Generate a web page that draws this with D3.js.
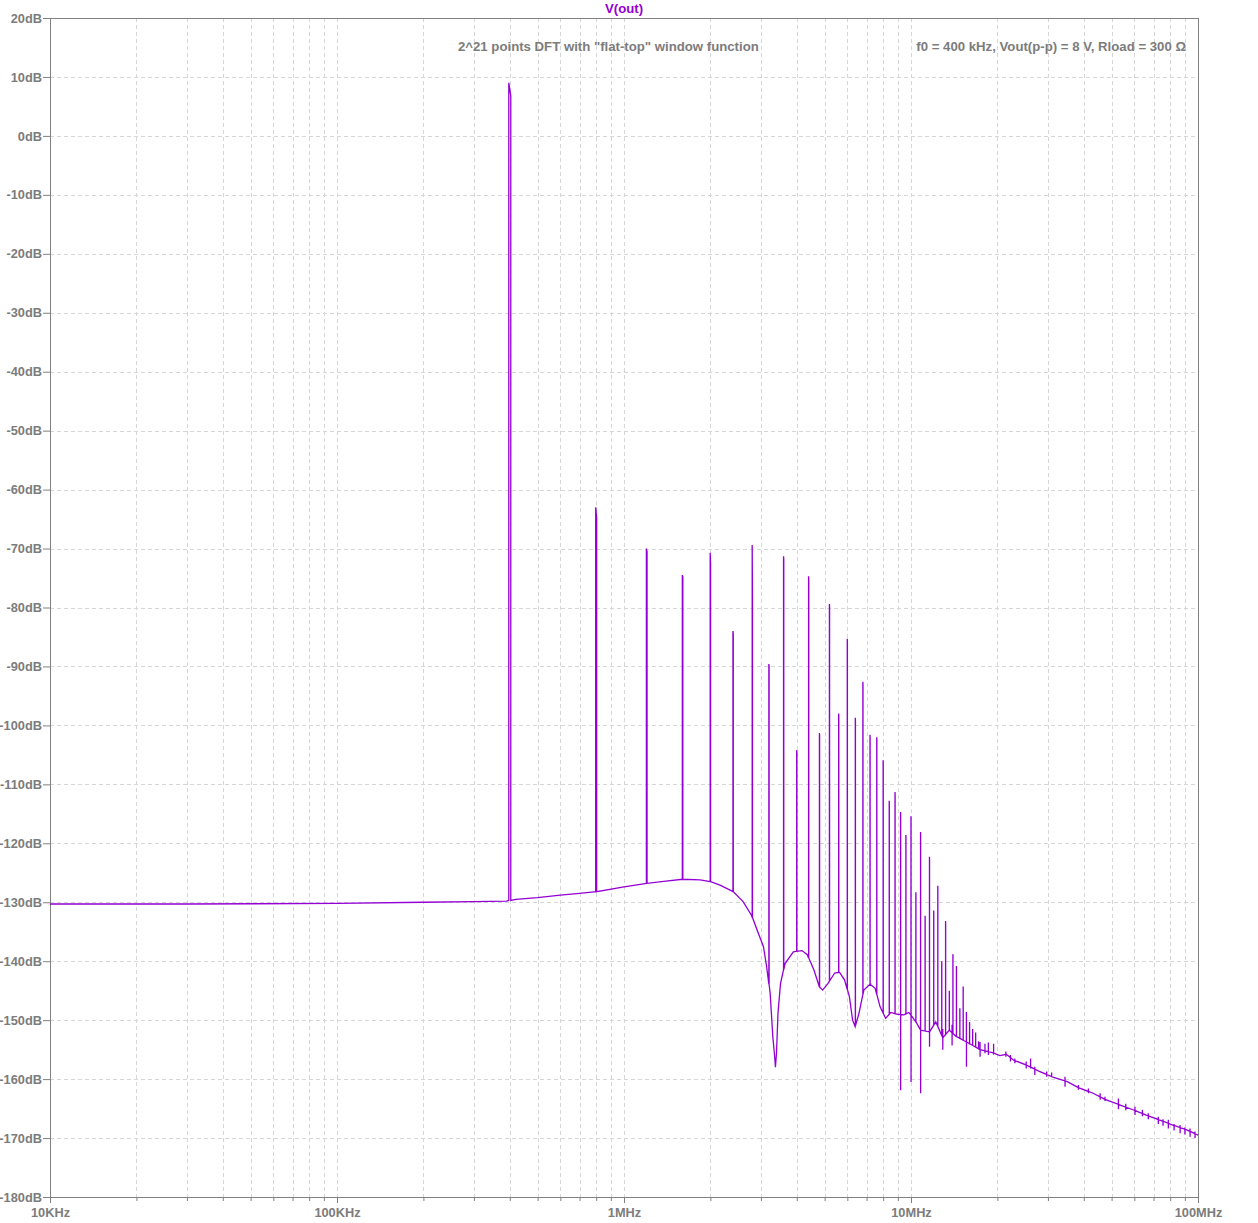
<!DOCTYPE html>
<html><head><meta charset="utf-8">
<script src="https://cdn.jsdelivr.net/npm/d3@7"></script>
<style>
body{margin:0;background:#fff}
text{font-family:"Liberation Sans",Arial,sans-serif;font-weight:bold;font-size:13.2px}
</style>
</head><body>
<svg id="c" width="1258" height="1223"></svg>
<script>
// ---------- data ----------
const xTickValues = [1e4, 1e5, 1e6, 1e7, 1e8];
const xTickLabels = ["10KHz", "100KHz", "1MHz", "10MHz", "100MHz"];
const yTickValues = [20, 10, 0, -10, -20, -30, -40, -50, -60, -70, -80, -90, -100, -110, -120, -130, -140, -150, -160, -170, -180];
const yTickLabels = ["20dB","10dB","0dB","-10dB","-20dB","-30dB","-40dB","-50dB","-60dB","-70dB","-80dB","-90dB","-100dB","-110dB","-120dB","-130dB","-140dB","-150dB","-160dB","-170dB","-180dB"];

// spectral floor (MHz, dB)
const floorMHz = [0.01,0.03,0.1,0.2,0.3,0.39,0.42,0.5,0.6,0.7,0.8,1.0,1.2,1.4,1.6,1.84,2.0,2.16,2.4,2.6,2.78,2.94,3.06,3.14,3.23,3.30,3.35,3.37,3.40,3.44,3.51,3.64,3.89,4.17,4.35,4.59,4.79,4.92,5.13,5.42,5.64,5.87,6.10,6.26,6.39,6.59,6.85,7.2,7.5,7.8,8.16,8.5,8.96,9.45,9.83,10.4,10.8,11.6,12.2,12.9,13.6,14.4,15.2,16.0,17.4,19.2,20.4,21.5,22.8,25.2,28.0,31.4,34.9,38.5,43.1,47.7,53.6,59.3,66.0,73.2,81.7,91.3,100];
const floorDb = [-130.3,-130.3,-130.2,-130.0,-129.9,-129.8,-129.5,-129.2,-128.8,-128.5,-128.2,-127.4,-126.8,-126.4,-126.1,-126.2,-126.5,-127.1,-128.2,-129.9,-132.2,-135.3,-137.5,-140.9,-145.4,-152.8,-156.2,-158.0,-155.5,-148.8,-143.8,-140.4,-138.4,-138.2,-138.9,-141.5,-144.3,-144.9,-143.8,-142.0,-141.9,-143.2,-146.0,-150.0,-151.1,-148.8,-144.9,-143.9,-144.6,-147.7,-149.7,-148.7,-149.0,-149.1,-148.7,-150.3,-151.7,-152.0,-150.3,-153.0,-151.7,-152.8,-153.4,-154.0,-155.0,-155.5,-156.0,-155.8,-156.8,-157.6,-158.7,-159.7,-160.4,-161.5,-162.4,-163.5,-164.4,-165.2,-166.1,-166.9,-167.8,-168.6,-169.5];

// harmonics of f0 = 400 kHz (MHz, peak dB, adjacent bin dB)
const harmonicMHz = [0.4,0.8,1.2,1.6,2.0,2.4,2.8,3.2,3.6,4.0,4.4,4.8,5.2,5.6,6.0,6.4,6.8,7.2,7.6,8.0,8.4,8.8,9.2,9.6,10.0,10.4,10.8,11.2,11.6,12.0,12.4,12.8,13.2,13.6,14.0,14.4,14.8,15.2,15.6,16.0,16.4,16.8,17.2];
const harmonicPeakDb = [9.0,-63.0,-70.0,-74.5,-70.7,-84.0,-69.4,-89.6,-71.3,-104.2,-74.7,-101.3,-79.4,-98.0,-85.3,-98.7,-92.6,-101.6,-102.0,-105.9,-112.8,-111.3,-114.7,-118.6,-115.4,-128.3,-118.1,-132.3,-122.3,-131.4,-127.2,-140.0,-133.2,-145.0,-138.8,-140.8,-148.0,-144.3,-148.6,-150.3,-151.5,-152.1,-153.6];
const harmonicSideDb = [6.8,-64.8,-70.5,-74.8,-72.6,-84.5,-78.6,-90.0,-71.8,-104.5,-75.2,-101.8,-79.9,-98.5,-85.8,-99.2,-93.1,-102.1,-102.5,-106.4,-113.3,-111.8,-115.2,-119.1,-115.9,-128.8,-118.6,-132.8,-122.8,-131.9,-127.7,-140.5,-133.7,-145.5,-139.3,-141.3,-148.5,-144.8,-149.1,-150.8,-152.0,-152.6,-154.1];

// downward excursions next to some harmonics
const dipMHz = [9.2, 10.0, 10.8, 11.6, 15.6];
const dipDb = [-161.9, -160.5, -162.4, -154.5, -157.9];

// small noise ticks on the high-frequency floor
const noiseMHz = [12.9,13.9,17.4,18.1,18.6,19.4,21.4,22.2,23.0,25.2,26.1,27.0,29.7,30.9,34.4,38.3,41.5,45.6,47.4,52.8,56.0,60.3,64.0,67.1,72.7,75.5,78.8,82.5,86.6,90.0,93.8,97.6];
const noiseHiDb = [-151.5,-150.8,-153.7,-154.0,-153.8,-154.0,-155.3,-155.9,-156.5,-157.0,-156.5,-157.9,-158.7,-158.9,-159.6,-161.0,-161.6,-162.4,-163.0,-163.3,-164.2,-164.7,-165.2,-165.8,-166.4,-166.8,-166.9,-167.6,-167.8,-168.2,-168.4,-168.9];
const noiseLoDb = [-155.0,-154.3,-156.2,-155.6,-155.9,-155.6,-156.2,-157.0,-157.3,-158.2,-158.2,-159.3,-159.6,-159.7,-161.3,-161.8,-162.4,-163.5,-163.7,-165.1,-165.3,-166.1,-166.3,-166.8,-167.6,-167.9,-168.4,-168.7,-169.2,-169.4,-169.8,-170.0];

const titleText = "V(out)";
const noteLeft = "2^21 points DFT with \"flat-top\" window function";
const noteRight = "f0 = 400 kHz, Vout(p-p) = 8 V, Rload = 300 \u03A9";

// ---------- drawing ----------
const L = 50, R = 1198, T = 18, B = 1197;
const svg = d3.select("#c");
const x = d3.scaleLog().domain([1e4, 1e8]).range([L, R]);
const y = d3.scaleLinear().domain([-180, 20]).range([B, T]);
const gridColor = "#d6d6d6", axisColor = "#808080", labelColor = "#7c7c7c";

const minorTicks = [];
[1e4,1e5,1e6,1e7].forEach(d => { for (let k = 2; k <= 9; k++) minorTicks.push(d * k); });

const grid = svg.append("g");
minorTicks.concat(xTickValues.slice(1, 4)).forEach(v => {
  const px = Math.round(x(v)) + 0.5;
  grid.append("line").attr("x1", px).attr("x2", px).attr("y1", T).attr("y2", B)
    .attr("stroke", gridColor).attr("stroke-dasharray", "4,3");
});
yTickValues.slice(1, -1).forEach(v => {
  const py = Math.round(y(v)) + 0.5;
  grid.append("line").attr("x1", L).attr("x2", R).attr("y1", py).attr("y2", py)
    .attr("stroke", gridColor).attr("stroke-dasharray", "4,3");
});

svg.append("rect").attr("x", L + 0.5).attr("y", T + 0.5).attr("width", R - L).attr("height", B - T)
  .attr("fill", "none").attr("stroke", axisColor);

const yAxis = d3.axisLeft(y).tickValues(yTickValues).tickFormat((d, i) => yTickLabels[i]).tickSize(7).tickSizeOuter(0).tickPadding(1);
const gy = svg.append("g").attr("transform", `translate(${L},0)`).call(yAxis);
const xAxis = d3.axisBottom(x).tickValues(xTickValues).tickFormat((d, i) => xTickLabels[i]).tickSize(6).tickSizeOuter(0).tickPadding(5);
const gx = svg.append("g").attr("transform", `translate(0,${B})`).call(xAxis);
const xMinor = d3.axisBottom(x).tickValues(minorTicks).tickFormat("").tickSize(4).tickSizeOuter(0);
const gxm = svg.append("g").attr("transform", `translate(0,${B})`).call(xMinor);
[gy, gx, gxm].forEach(g => {
  g.select(".domain").attr("stroke", axisColor);
  g.selectAll(".tick line").attr("stroke", axisColor);
  g.selectAll(".tick text").attr("fill", labelColor).style("font-family", "'Liberation Sans',Arial,sans-serif")
    .style("font-weight", "bold").style("font-size", "12.8px");
});

const floorPts = floorMHz.map((m, i) => ({ f: m * 1e6, db: floorDb[i] }));
const bis = d3.bisector(d => d.f).right;
function floorAt(f) {
  let i = bis(floorPts, f);
  i = Math.max(1, Math.min(floorPts.length - 1, i));
  const a = floorPts[i - 1], b = floorPts[i];
  const t = (Math.log10(f) - Math.log10(a.f)) / (Math.log10(b.f) - Math.log10(a.f));
  return a.db + (b.db - a.db) * t;
}
const df = 3200;
const groups = floorPts.map(p => ({ key: p.f, pts: [p] }));
harmonicMHz.forEach((m, i) => {
  const f = m * 1e6, base = floorAt(f);
  const pts = [
    { f: f - df, db: base },
    { f: f - df, db: harmonicPeakDb[i] },
    { f: f + df, db: harmonicSideDb[i] },
  ];
  const di = dipMHz.indexOf(m);
  if (di >= 0) { pts.push({ f: f + df, db: dipDb[di] }); pts.push({ f: f + 2 * df, db: base }); }
  else pts.push({ f: f + df, db: base });
  groups.push({ key: f, pts });
});
noiseMHz.forEach((m, i) => {
  const f = m * 1e6, base = floorAt(f);
  groups.push({ key: f, pts: [
    { f: f, db: base }, { f: f, db: noiseHiDb[i] }, { f: f * 1.0004, db: noiseLoDb[i] }, { f: f * 1.0008, db: base }
  ]});
});
groups.sort((a, b) => a.key - b.key);
const series = [];
groups.forEach(g => g.pts.forEach(p => series.push(p)));

const line = d3.line().x(d => x(d.f)).y(d => y(d.db));
svg.append("path").datum(series).attr("d", line)
  .attr("fill", "none").attr("stroke", "#9400d3").attr("stroke-width", 1.3);

svg.append("text").attr("x", 624).attr("y", 13).attr("text-anchor", "middle").attr("fill", "#9400d3").text(titleText);
svg.append("text").attr("x", 458).attr("y", 51).attr("fill", labelColor).text(noteLeft);
svg.append("text").attr("x", 1186).attr("y", 51).attr("text-anchor", "end").attr("fill", labelColor).text(noteRight);
</script>
</body></html>
